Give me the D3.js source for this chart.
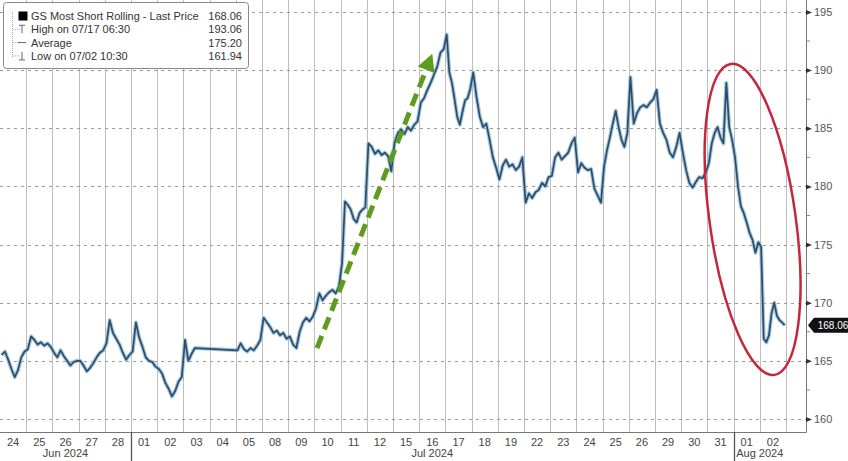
<!DOCTYPE html>
<html><head><meta charset="utf-8">
<script src="https://cdn.jsdelivr.net/npm/d3@7"></script>
<style>
html,body{margin:0;padding:0;background:#fff;}
svg{display:block;font-family:"Liberation Sans","DejaVu Sans",sans-serif;}
</style></head>
<body>
<svg id="c" width="848" height="461"></svg>
<script>
// ---------- DATA ----------
const dates = ["2024-06-24","2024-06-25","2024-06-26","2024-06-27","2024-06-28",
  "2024-07-01","2024-07-02","2024-07-03","2024-07-04","2024-07-05",
  "2024-07-08","2024-07-09","2024-07-10","2024-07-11","2024-07-12",
  "2024-07-15","2024-07-16","2024-07-17","2024-07-18","2024-07-19",
  "2024-07-22","2024-07-23","2024-07-24","2024-07-25","2024-07-26",
  "2024-07-29","2024-07-30","2024-07-31","2024-08-01","2024-08-02"];
const dayLabels = ["24","25","26","27","28","01","02","03","04","05","08","09","10","11","12",
  "15","16","17","18","19","22","23","24","25","26","29","30","31","01","02"];
const months = ["Jun 2024","Jul 2024","Aug 2024"];
// intraday prices per trading day (null = no trading)
const prices = [
  [165.5,165.8,165.1,164.3,163.6,164.2,165.3,165.8],
  [166.0,167.1,166.8,166.4,166.6,166.3,166.5,166.2],
  [165.7,165.3,165.9,165.4,165.0,164.6,164.9,165.0],
  [165.0,164.6,164.1,164.4,164.8,165.3,165.7,165.9],
  [166.5,168.5,167.4,166.9,166.4,165.7,165.1,165.5],
  [165.8,168.3,167.0,166.2,165.3,165.0,164.9,164.5],
  [164.3,163.9,163.1,162.6,161.94,162.4,163.2,163.6],
  [166.8,165.0,165.6,166.1,null,null,null,null],
  [],
  [165.9,166.5,166.0,165.8,166.1,165.9,166.3,166.8],
  [168.7,168.3,167.9,167.4,167.6,167.2,167.4,166.9],
  [167.1,166.4,166.1,167.5,168.3,168.7,168.4,168.8],
  [169.5,170.8,170.2,170.6,170.9,171.1,170.8,171.4],
  [173.4,178.7,178.4,178.0,177.2,176.9,177.7,178.0,178.2],
  [183.7,183.4,182.8,183.1,182.7,182.9,182.6,181.3],
  [183.8,184.6,184.9,184.5,185.1,184.8,185.3,185.6],
  [187.2,187.6,188.3,188.9,189.6,190.3,191.5,191.8],
  [193.06,189.8,188.9,187.5,186.0,185.3,186.4,187.4,187.6,188.4],
  [189.8,187.7,186.0,185.1,185.4,184.0,182.5,181.6],
  [180.6,181.8,182.3,181.7,181.9,181.4,181.7,182.5],
  [178.6,179.4,179.0,179.5,179.7,180.3,180.0,180.8],
  [180.9,182.5,182.9,182.3,182.6,182.9,183.7,184.2],
  [181.2,182.0,181.6,181.4,181.5,179.8,179.2,178.6],
  [181.7,183.1,184.2,185.4,186.5,185.1,184.0,183.4,184.6],
  [189.4,185.4,186.3,186.8,187.0,186.8,187.2,187.5],
  [188.3,185.4,184.6,184.0,182.9,182.5,183.4,184.6],
  [182.9,181.4,180.3,179.9,180.4,180.8,180.7,181.2],
  [182.0,183.7,184.6,185.1,184.2,183.7,188.9,185.1,184.0],
  [182.5,180.0,178.3,177.7,176.9,176.0,175.4,174.3,175.2],
  [174.8,166.9,166.6,167.2,169.1,170.0,168.9,168.5,168.3,168.06]
];
const yTicks = [160,165,170,175,180,185,190,195];
const legendRows = [
  ["GS Most Short Rolling - Last Price","168.06"],
  ["High on 07/17 06:30","193.06"],
  ["Average","175.20"],
  ["Low on 07/02 10:30","161.94"]
];
const lastPrice = 168.06;
const arrowFrom = [dates[12], 166.1];   // green arrow start (day, price)
const arrowTo = [dates[16], 191.4];     // green arrow tip

// ---------- SCALES ----------
const svg = d3.select("#c");
const W = 848, H = 461;
const plotRight = 806, plotBottom = 432;
const x = d3.scaleBand().domain(dates).range([0, 786]).paddingInner(0).paddingOuter(0);
const y = d3.scaleLinear().domain([158.88, 196.03]).range([plotBottom, 0]);

// ---------- GRID ----------
const vx = dates.slice(1).map(d => Math.round(x(d)) + 0.5)
  .concat([Math.round(x(dates[dates.length-1]) + x.bandwidth()) + 0.5]);
const gv = svg.append("g").attr("class", "vgrid");
vx.forEach(v => {
  gv.append("line").attr("x1", v).attr("x2", v).attr("y1", 0).attr("y2", plotBottom)
    .attr("stroke", "#bdbdbd").attr("stroke-width", 1);
});
const gh = svg.append("g").attr("class", "hgrid");
yTicks.forEach(t => {
  const yy = Math.round(y(t)) + 0.5;
  gh.append("line").attr("x1", 0).attr("x2", plotRight).attr("y1", yy).attr("y2", yy)
    .attr("stroke", "#9a9a9a").attr("stroke-width", 1.2).attr("stroke-dasharray", "3,4");
});

// ---------- LINE ----------
const pts = [];
prices.forEach((arr, i) => {
  const n = arr.length;
  arr.forEach((v, j) => {
    if (v === null) return;
    pts.push([x(dates[i]) + (j + 0.5) / n * x.bandwidth(), v]);
  });
});
const line = d3.line().x(d => d[0]).y(d => y(d[1]));
svg.append("path").attr("d", line(pts)).attr("fill", "none")
  .attr("stroke", "#8fbbdc").attr("stroke-width", 4).attr("stroke-linejoin", "round").attr("opacity", 0.8);
svg.append("path").attr("d", line(pts)).attr("fill", "none")
  .attr("stroke", "#2f4b66").attr("stroke-width", 1.7).attr("stroke-linejoin", "round");

// ---------- AXES ----------
svg.append("line").attr("x1", 0).attr("x2", plotRight + 0.5).attr("y1", plotBottom + 0.5).attr("y2", plotBottom + 0.5)
  .attr("stroke", "#777").attr("stroke-width", 1);
svg.append("line").attr("x1", plotRight + 0.5).attr("x2", plotRight + 0.5).attr("y1", 0).attr("y2", plotBottom + 0.5)
  .attr("stroke", "#777").attr("stroke-width", 1);

const xAxis = d3.axisBottom(x).tickSize(0).tickPadding(4).tickFormat((d, i) => dayLabels[i]);
const xa = svg.append("g").attr("transform", `translate(0,${plotBottom})`).call(xAxis);
xa.select(".domain").remove();
xa.selectAll("text").attr("font-size", 11).attr("fill", "#444").attr("dy", "0.9em");

const monthOf = d => d.slice(0, 7);
const monthKeys = Array.from(new Set(dates.map(monthOf)));
monthKeys.forEach((m, k) => {
  const ds = dates.filter(d => monthOf(d) === m);
  const x0 = x(ds[0]), x1 = x(ds[ds.length - 1]) + x.bandwidth();
  if (k > 0) {
    svg.append("line").attr("x1", Math.round(x0) + 0.5).attr("x2", Math.round(x0) + 0.5).attr("y1", plotBottom).attr("y2", H)
      .attr("stroke", "#555").attr("stroke-width", 1.3);
  }
  svg.append("text").attr("x", (x0 + x1) / 2).attr("y", 457).attr("text-anchor", "middle")
    .attr("font-size", 11).attr("fill", "#444").text(months[k]);
});

const yAxis = d3.axisRight(y).tickValues(yTicks).tickSize(0).tickPadding(8).tickFormat(d3.format("d"));
const ya = svg.append("g").attr("transform", `translate(${plotRight},0)`).call(yAxis);
ya.select(".domain").remove();
ya.selectAll("text").attr("font-size", 11).attr("fill", "#555");
ya.selectAll(".tick").append("path").attr("d", "M0,-2.5L6,0L0,2.5Z").attr("fill", "#333");
const minor = d3.range(162.5, 196, 5);
minor.forEach(t => {
  svg.append("line").attr("x1", plotRight).attr("x2", plotRight + 4)
    .attr("y1", y(t)).attr("y2", y(t)).attr("stroke", "#888");
});

const ly = y(lastPrice);
svg.append("path").attr("d", `M${plotRight+2},${ly} L${plotRight+8},${ly-7.5} L${W},${ly-7.5} L${W},${ly+7.5} L${plotRight+8},${ly+7.5} Z`)
  .attr("fill", "#111");
svg.append("text").attr("x", plotRight + 27).attr("y", ly + 3.5).attr("text-anchor", "middle")
  .attr("font-size", 10).attr("fill", "#fff").text(lastPrice.toFixed(2));

// ---------- ANNOTATIONS ----------
const ax0 = x(arrowFrom[0]) + x.bandwidth() * 0.1, ay0 = y(arrowFrom[1]);
const ax1 = x(arrowTo[0]) + x.bandwidth() * 0.5, ay1 = y(arrowTo[1]);
const ang = Math.atan2(ay1 - ay0, ax1 - ax0);
const headLen = 17, headW = 9;
const bx = ax1 - headLen * Math.cos(ang), by = ay1 - headLen * Math.sin(ang);
svg.append("line").attr("x1", ax0).attr("y1", ay0).attr("x2", bx).attr("y2", by)
  .attr("stroke", "#5f9b1c").attr("stroke-width", 5).attr("stroke-dasharray", "13,7");
svg.append("path").attr("d",
  `M${ax1},${ay1} L${bx + headW*Math.sin(ang)},${by - headW*Math.cos(ang)} L${bx - headW*Math.sin(ang)},${by + headW*Math.cos(ang)} Z`)
  .attr("fill", "#5f9b1c");

svg.append("ellipse").attr("cx", 0).attr("cy", 0).attr("rx", 43).attr("ry", 157)
  .attr("transform", `translate(${x(dates[28]) + 19},${y(180.0) + 33}) rotate(-8)`)
  .attr("fill", "none").attr("stroke", "#c3283a").attr("stroke-width", 2.5);

// ---------- LEGEND ----------
const lg = svg.append("g");
lg.append("rect").attr("x", 3.5).attr("y", 2.5).attr("width", 245).attr("height", 66).attr("rx", 3)
  .attr("fill", "#fff").attr("stroke", "#8a8a8a").attr("stroke-width", 1);
lg.append("line").attr("x1", 12.5).attr("x2", 12.5).attr("y1", 12).attr("y2", 58)
  .attr("stroke", "#aaa").attr("stroke-dasharray", "1,1");
legendRows.forEach((r, i) => {
  const cy = 16 + i * 13.3;
  if (i === 0) {
    lg.append("rect").attr("x", 18.5).attr("y", cy - 4.5).attr("width", 9).attr("height", 9).attr("fill", "#000");
  } else {
    lg.append("line").attr("x1", 13).attr("x2", 20).attr("y1", cy).attr("y2", cy).attr("stroke", "#aaa").attr("stroke-dasharray", "1,1");
    if (i === 1) lg.append("path").attr("d", `M19,${cy-4}h6M22,${cy-4}v8`).attr("stroke", "#666").attr("fill", "none");
    if (i === 2) lg.append("path").attr("d", `M18,${cy}h8`).attr("stroke", "#666").attr("fill", "none");
    if (i === 3) lg.append("path").attr("d", `M22,${cy-4}v8M19,${cy+4}h6`).attr("stroke", "#666").attr("fill", "none");
  }
  lg.append("text").attr("x", 31).attr("y", cy + 4).attr("font-size", 11).attr("fill", "#333").text(r[0]);
  lg.append("text").attr("x", 242).attr("y", cy + 4).attr("text-anchor", "end").attr("font-size", 11).attr("fill", "#333").text(r[1]);
});
</script>
</body></html>
